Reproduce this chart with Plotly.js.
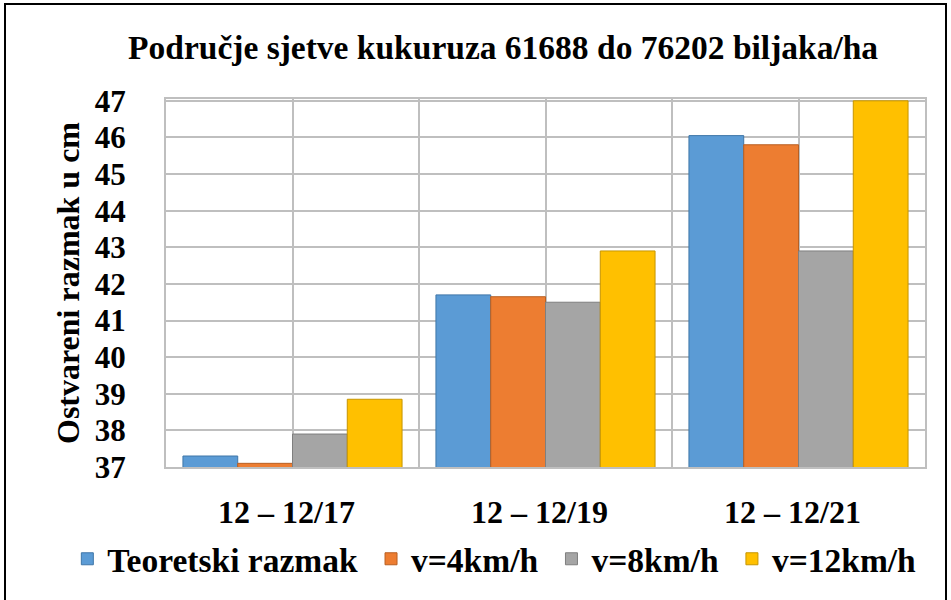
<!DOCTYPE html>
<html>
<head>
<meta charset="utf-8">
<script src="https://cdn.plot.ly/plotly-3.0.1.min.js"></script>
<style>
  html, body { margin: 0; padding: 0; background: #fff; }
  #chart { width: 951px; height: 600px; }
  #frame { position: absolute; left: 4px; top: 3px; width: 939px; height: 640px; border: 2px solid #000; pointer-events: none; }
</style>
</head>
<body>
<div id="chart"></div>
<div id="frame"></div>
<script>
const categories = ["12 – 12/17", "12 – 12/19", "12 – 12/21"];
const seriesNames = ["Teoretski razmak", "v=4km/h", "v=8km/h", "v=12km/h"];
const teoretski = [37.3, 41.7, 46.05];
const v4 = [37.1, 41.65, 45.8];
const v8 = [37.9, 41.5, 42.9];
const v12 = [38.85, 42.9, 47.0];
const yTicks = [37, 38, 39, 40, 41, 42, 43, 44, 45, 46, 47];

const colors = ["#5b9bd5", "#ed7d31", "#a5a5a5", "#ffc000"];
const edge = ["#3f76a8", "#b85f22", "#7f7f7f", "#c69500"];
const values = [teoretski, v4, v8, v12];
const xIdx = categories.map((c, i) => i);

const font = "Liberation Serif, Times New Roman, serif";

const traces = values.map((vals, k) => ({
  type: "bar",
  name: "<b>" + seriesNames[k] + "</b>" + (k < 3 ? "\u00a0" : ""),
  x: xIdx,
  y: vals,
  marker: { color: colors[k], line: { color: edge[k], width: 1 } },
  hoverinfo: "y+name"
}));

const layout = {
  width: 951,
  height: 600,
  paper_bgcolor: "#fff",
  plot_bgcolor: "#fff",
  margin: { l: 166, r: 26, t: 99, b: 133 },
  title: {
    text: "<b>Područje sjetve kukuruza 61688 do 76202 biljaka/ha</b>",
    font: { family: font, size: 33.5, color: "#000" },
    x: 0.529, xanchor: "center", y: 0.922, yanchor: "middle"
  },
  barmode: "group",
  bargap: 0.134,
  bargroupgap: 0,
  showlegend: true,
  legend: {
    orientation: "h",
    x: -0.13, xanchor: "left",
    y: -0.25, yanchor: "middle",
    font: { family: font, size: 33.5, color: "#000" },
    itemwidth: 30,
    tracegroupgap: 0
  },
  xaxis: {
    range: [-0.5, 2.5],
    tickmode: "array",
    tickvals: xIdx,
    ticktext: categories.map(c => "<b>" + c + "</b>"),
    tickfont: { family: font, size: 32, color: "#000" },
    showgrid: true,
    gridcolor: "#bfbfbf",
    gridwidth: 2,
    minor: { dtick: 0.5, tick0: 0.5, showgrid: true, gridcolor: "#bfbfbf", gridwidth: 2 },
    showline: true,
    linecolor: "#bfbfbf",
    linewidth: 2,
    mirror: true,
    ticks: "",
    ticklabelstandoff: 16,
    ticklabelshift: -6,
    zeroline: false,
    fixedrange: true
  },
  yaxis: {
    range: [37, 47.05],
    tickmode: "array",
    tickvals: yTicks,
    ticktext: yTicks.map(v => "<b>" + v + "</b>"),
    tickfont: { family: font, size: 31, color: "#000" },
    showgrid: true,
    gridcolor: "#bfbfbf",
    gridwidth: 2,
    showline: true,
    linecolor: "#bfbfbf",
    linewidth: 2,
    mirror: true,
    ticks: "",
    ticklabelstandoff: 32,
    zeroline: false,
    title: {
      text: "<b>Ostvareni razmak u cm</b>",
      font: { family: font, size: 32, color: "#000" },
      standoff: 6
    },
    fixedrange: true
  }
};

Plotly.newPlot("chart", traces, layout, { displayModeBar: false, staticPlot: true });
</script>
</body>
</html>
